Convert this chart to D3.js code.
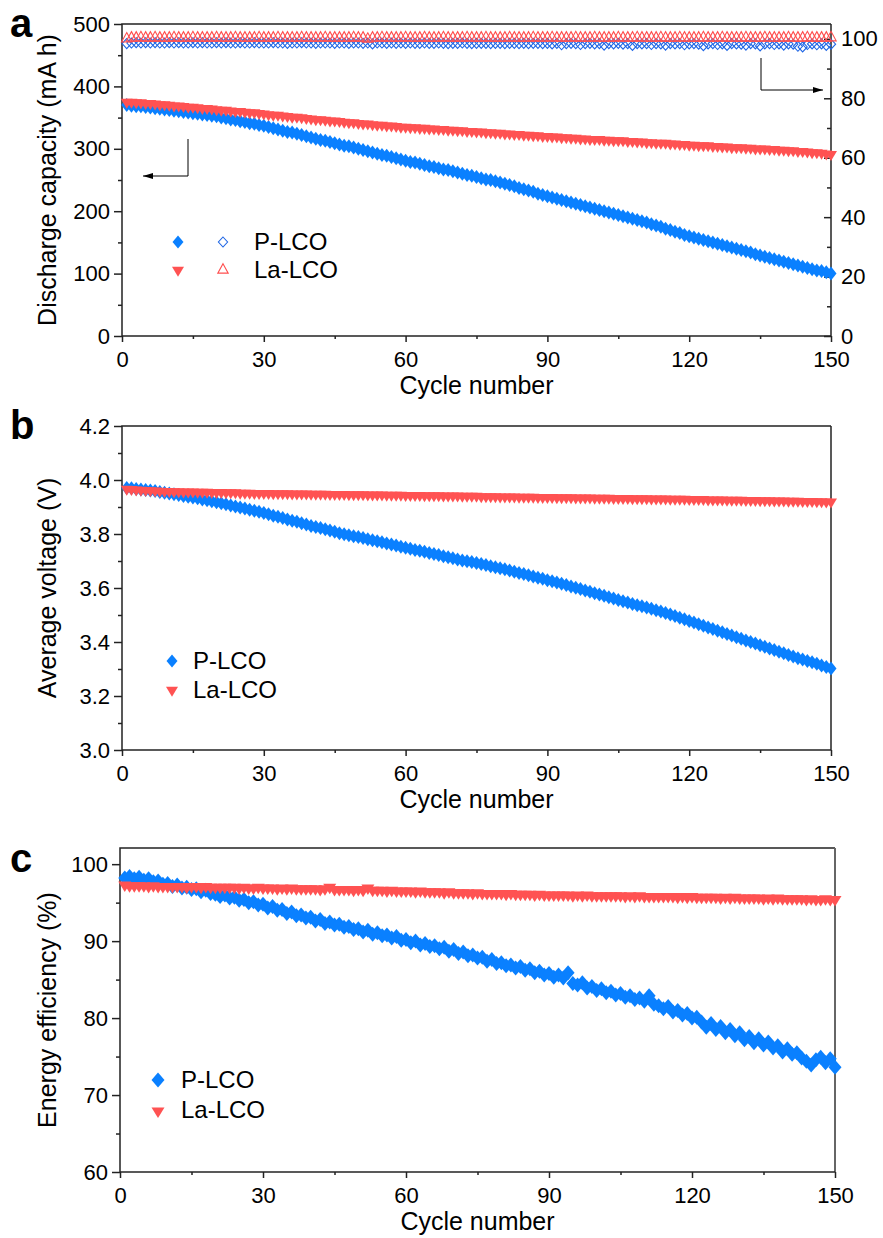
<!DOCTYPE html>
<html>
<head>
<meta charset="utf-8">
<script src="https://cdn.jsdelivr.net/npm/d3@7"></script>
<style>
  body { margin: 0; background: #fff; }
  svg text { font-family: "Liberation Sans", Arial, sans-serif; fill: #000; }
</style>
</head>
<body>
<svg id="chart" width="883" height="1238"></svg>
<script>
// cycle index 1..150
const cycles = d3.range(1, 151)
const xTicks = [0, 30, 60, 90, 120, 150]
const xMinor = [15, 45, 75, 105, 135]

// panel a: discharge capacity (mA h)
const pCapacity = [
  370, 369, 368, 368, 367, 366, 365, 364, 363, 362, 361, 360, 359, 358, 357, 356, 355, 354, 353, 352,
  350, 349, 347, 346, 344, 343, 341, 340, 338, 337, 335, 333, 331, 329, 327, 326, 324, 322, 320, 318,
  316, 314, 313, 311, 309, 307, 305, 304, 302, 300, 298, 296, 294, 292, 290, 289, 287, 285, 283, 281,
  279, 278, 276, 274, 272, 271, 269, 267, 266, 264, 262, 260, 258, 257, 255, 253, 251, 250, 248, 246,
  244, 242, 240, 237, 235, 233, 231, 228, 226, 224, 222, 220, 218, 216, 214, 212, 210, 208, 206, 204,
  202, 200, 198, 196, 194, 192, 190, 188, 186, 184, 182, 179, 177, 175, 172, 170, 167, 165, 162, 160,
  158, 156, 154, 152, 150, 148, 146, 144, 142, 140, 138, 136, 134, 131, 129, 127, 125, 123, 121, 119,
  117, 115, 113, 111, 109, 107, 105, 104, 102, 100
]
const laCapacity = [
  375, 375, 374, 374, 373, 373, 372, 371, 371, 370, 369, 369, 368, 367, 367, 366, 365, 365, 364, 363,
  362, 362, 361, 360, 360, 359, 358, 358, 357, 356, 355, 354, 354, 353, 352, 351, 351, 350, 349, 348,
  347, 347, 346, 345, 345, 344, 343, 342, 342, 341, 340, 340, 339, 338, 338, 337, 337, 336, 335, 335,
  334, 334, 333, 333, 332, 332, 331, 331, 330, 330, 329, 329, 328, 328, 327, 327, 326, 326, 325, 325,
  324, 324, 323, 323, 322, 322, 321, 321, 320, 320, 319, 319, 318, 318, 317, 317, 316, 316, 315, 315,
  315, 314, 314, 313, 313, 313, 312, 312, 311, 311, 310, 310, 309, 309, 309, 308, 308, 307, 307, 306,
  306, 305, 305, 305, 304, 304, 303, 303, 302, 302, 302, 301, 301, 300, 300, 300, 299, 299, 298, 298,
  297, 297, 296, 296, 295, 294, 294, 293, 292, 291
]
// panel a, right axis: coulombic efficiency (%)
const pCoulombic = [
  98.4, 98.6, 98.7, 98.6, 98.7, 98.6, 98.7, 98.6, 98.6, 98.7, 98.6, 98.7, 98.6, 98.6, 98.7, 98.6, 98.7, 98.6, 98.6, 98.7,
  98.6, 98.7, 98.6, 98.6, 98.7, 98.6, 98.6, 98.7, 98.6, 98.6, 98.6, 98.7, 98.6, 98.6, 98.5, 98.6, 98.6, 98.7, 98.6, 98.6,
  98.5, 98.6, 98.6, 98.6, 98.5, 98.6, 98.6, 98.5, 98.6, 98.6, 98.5, 98.6, 98.3, 98.6, 98.6, 98.5, 98.6, 98.5, 98.6, 98.5,
  98.6, 98.5, 98.5, 98.6, 98.5, 98.5, 98.6, 98.5, 98.4, 98.5, 98.5, 98.6, 98.5, 98.4, 98.5, 98.5, 98.5, 98.4, 98.5, 98.5,
  98.4, 98.5, 98.5, 98.4, 98.5, 98.4, 98.5, 98.5, 98.4, 98.5, 98.3, 98.5, 98.0, 98.4, 98.5, 98.4, 98.1, 98.4, 98.5, 98.3,
  98.4, 97.9, 98.4, 98.3, 98.5, 98.2, 98.4, 97.8, 98.4, 98.3, 98.4, 98.1, 98.4, 98.3, 97.9, 98.4, 98.3, 98.4, 98.0, 98.3,
  98.4, 98.2, 97.7, 98.3, 98.4, 98.1, 98.3, 97.8, 98.4, 98.3, 98.2, 97.9, 98.4, 98.3, 97.6, 98.3, 98.4, 98.1, 98.3, 97.9,
  98.3, 98.2, 97.5, 97.3, 98.1, 98.3, 98.0, 98.3, 97.8, 98.2
]
const laCoulombic = [
  100.0, 100.3, 100.3, 100.4, 100.3, 100.3, 100.4, 100.3, 100.3, 100.3, 100.4, 100.3, 100.3, 100.3, 100.4, 100.3, 100.3, 100.3, 100.3, 100.4,
  100.3, 100.3, 100.3, 100.4, 100.3, 100.3, 100.3, 100.3, 100.4, 100.3, 100.3, 100.3, 100.4, 100.3, 100.3, 100.3, 100.3, 100.4, 100.3, 100.3,
  100.3, 100.3, 100.4, 100.3, 100.3, 100.3, 100.3, 100.3, 100.4, 100.3, 100.3, 99.9, 100.3, 100.3, 100.4, 100.3, 100.3, 100.3, 100.3, 100.4,
  100.3, 100.3, 100.3, 100.4, 100.3, 100.3, 100.3, 100.4, 100.3, 100.3, 100.3, 100.3, 100.4, 100.3, 100.3, 100.3, 100.4, 100.3, 100.3, 100.3,
  100.3, 100.4, 100.3, 100.3, 100.3, 100.3, 100.4, 100.3, 100.3, 100.3, 100.4, 100.3, 100.3, 100.3, 100.3, 100.4, 100.3, 100.3, 100.3, 100.4,
  100.3, 100.3, 100.3, 100.3, 100.4, 100.3, 100.3, 100.3, 100.4, 100.3, 100.3, 100.3, 100.3, 100.4, 100.3, 100.3, 100.3, 100.4, 100.3, 100.3,
  100.3, 100.3, 100.4, 100.3, 100.3, 100.3, 100.4, 100.3, 100.3, 100.3, 100.3, 100.4, 100.3, 100.3, 100.3, 100.4, 100.3, 100.3, 100.3, 100.3,
  100.4, 100.3, 100.3, 100.3, 100.4, 100.3, 100.3, 100.3, 100.3, 100.4
]

// panel b: average voltage (V)
const pVoltage = [
  3.970, 3.969, 3.967, 3.965, 3.963, 3.961, 3.959, 3.956, 3.953, 3.950, 3.947, 3.944, 3.941, 3.938, 3.935,
  3.932, 3.928, 3.925, 3.921, 3.918, 3.914, 3.910, 3.906, 3.902, 3.898, 3.894, 3.890, 3.886, 3.882, 3.878,
  3.873, 3.868, 3.864, 3.859, 3.854, 3.849, 3.845, 3.840, 3.835, 3.830, 3.826, 3.822, 3.818, 3.813, 3.808,
  3.803, 3.799, 3.795, 3.792, 3.789, 3.785, 3.781, 3.777, 3.773, 3.769, 3.765, 3.761, 3.757, 3.753, 3.749,
  3.745, 3.741, 3.738, 3.734, 3.730, 3.726, 3.722, 3.718, 3.714, 3.710, 3.706, 3.702, 3.699, 3.696, 3.693,
  3.689, 3.685, 3.681, 3.677, 3.673, 3.669, 3.665, 3.660, 3.656, 3.652, 3.647, 3.643, 3.638, 3.634, 3.629,
  3.625, 3.620, 3.616, 3.611, 3.606, 3.601, 3.596, 3.591, 3.586, 3.581, 3.576, 3.571, 3.566, 3.561, 3.556,
  3.551, 3.546, 3.541, 3.536, 3.532, 3.528, 3.523, 3.518, 3.513, 3.507, 3.502, 3.496, 3.490, 3.484, 3.478,
  3.472, 3.466, 3.460, 3.454, 3.448, 3.442, 3.436, 3.430, 3.424, 3.418, 3.412, 3.406, 3.400, 3.394, 3.388,
  3.382, 3.376, 3.370, 3.364, 3.358, 3.352, 3.346, 3.340, 3.335, 3.330, 3.325, 3.319, 3.313, 3.307, 3.302
]
const laVoltage = [
  3.966, 3.965, 3.964, 3.963, 3.962, 3.961, 3.960, 3.959, 3.958, 3.958, 3.957, 3.957, 3.956, 3.956, 3.956,
  3.955, 3.955, 3.955, 3.954, 3.954, 3.954, 3.953, 3.953, 3.953, 3.952, 3.952, 3.952, 3.951, 3.951, 3.951,
  3.951, 3.950, 3.950, 3.950, 3.950, 3.949, 3.949, 3.949, 3.949, 3.948, 3.948, 3.948, 3.948, 3.947, 3.947,
  3.947, 3.947, 3.946, 3.946, 3.946, 3.946, 3.945, 3.945, 3.945, 3.945, 3.944, 3.944, 3.944, 3.944, 3.943,
  3.943, 3.943, 3.943, 3.942, 3.942, 3.942, 3.942, 3.941, 3.941, 3.941, 3.941, 3.940, 3.940, 3.940, 3.940,
  3.939, 3.939, 3.939, 3.939, 3.938, 3.938, 3.938, 3.938, 3.937, 3.937, 3.937, 3.937, 3.936, 3.936, 3.936,
  3.936, 3.935, 3.935, 3.935, 3.935, 3.934, 3.934, 3.934, 3.934, 3.933, 3.933, 3.933, 3.933, 3.932, 3.932,
  3.932, 3.932, 3.931, 3.931, 3.931, 3.931, 3.930, 3.930, 3.930, 3.930, 3.929, 3.929, 3.929, 3.929, 3.928,
  3.928, 3.928, 3.928, 3.927, 3.927, 3.927, 3.927, 3.926, 3.926, 3.926, 3.926, 3.925, 3.925, 3.925, 3.924,
  3.924, 3.924, 3.923, 3.923, 3.923, 3.922, 3.922, 3.922, 3.921, 3.921, 3.921, 3.920, 3.920, 3.919, 3.919
]

// panel c: energy efficiency (%)
const pEnergy = [
  98.2, 98.4, 98.1, 98.3, 97.9, 98.1, 97.7, 97.8, 97.4, 97.5, 97.1, 97.3, 96.9, 97.0, 96.7,
  96.8, 96.4, 96.6, 96.2, 96.1, 95.8, 96.0, 95.6, 95.7, 95.3, 95.4, 95.0, 95.1, 94.7, 94.8,
  94.3, 94.5, 94.0, 94.1, 93.6, 93.8, 93.3, 93.4, 93.0, 93.1, 92.6, 92.8, 92.3, 92.5, 92.1,
  92.2, 91.8, 91.9, 91.5, 91.6, 91.2, 91.4, 90.9, 91.1, 90.7, 90.8, 90.4, 90.6, 90.1, 90.2,
  89.8, 90.0, 89.5, 89.7, 89.3, 89.4, 89.0, 89.2, 88.7, 88.9, 88.4, 88.6, 88.1, 88.2, 87.8,
  87.9, 87.4, 87.6, 87.1, 87.2, 86.8, 86.9, 86.5, 86.7, 86.2, 86.4, 85.9, 86.1, 85.6, 85.8,
  85.3, 85.6, 85.2, 85.9, 84.5, 84.3, 84.6, 83.9, 84.1, 83.6, 83.8, 83.3, 83.5, 83.0, 83.2,
  82.7, 82.9, 82.4, 82.6, 82.2, 82.9, 81.8, 81.6, 81.2, 81.5, 80.8, 81.0, 80.4, 80.6, 80.0,
  80.1, 79.5, 78.8, 79.3, 78.5, 78.9, 78.1, 78.5, 77.7, 78.1, 77.2, 77.6, 76.8, 77.3, 76.5,
  76.9, 76.1, 76.4, 75.6, 76.0, 75.3, 75.5, 74.8, 74.4, 73.9, 74.6, 74.9, 74.2, 74.7, 73.6
]
const laEnergy = [
  97.3, 97.2, 97.2, 97.2, 97.2, 97.1, 97.2, 97.1, 97.1, 97.1, 97.1, 97.1, 97.1, 97.0, 97.1,
  97.1, 97.0, 97.1, 97.0, 97.0, 97.0, 97.0, 97.0, 97.0, 96.9, 97.0, 96.9, 96.9, 97.0, 96.9,
  96.9, 96.9, 96.8, 96.9, 96.8, 96.9, 96.8, 96.8, 96.8, 96.8, 96.8, 96.7, 96.8, 97.0, 96.7,
  96.7, 96.7, 96.7, 96.6, 96.7, 96.6, 96.9, 96.6, 96.6, 96.6, 96.5, 96.6, 96.5, 96.5, 96.5,
  96.5, 96.4, 96.5, 96.4, 96.4, 96.4, 96.4, 96.3, 96.4, 96.3, 96.3, 96.3, 96.3, 96.2, 96.3,
  96.2, 96.2, 96.2, 96.2, 96.2, 96.1, 96.2, 96.1, 96.1, 96.1, 96.1, 96.0, 96.1, 96.0, 96.0,
  96.0, 96.0, 96.0, 96.0, 95.9, 96.0, 95.9, 96.0, 95.9, 95.9, 95.9, 95.9, 95.9, 95.9, 95.9,
  95.8, 95.9, 95.8, 95.9, 95.8, 95.8, 95.8, 95.8, 95.8, 95.8, 95.8, 95.7, 95.8, 95.7, 95.8,
  95.7, 95.7, 95.7, 95.7, 95.7, 95.6, 95.7, 95.6, 95.7, 95.6, 95.6, 95.6, 95.6, 95.6, 95.5,
  95.6, 95.5, 95.6, 95.5, 95.5, 95.5, 95.5, 95.5, 95.4, 95.5, 95.4, 95.4, 95.5, 95.4, 95.4
]

const seriesNames = ['P-LCO', 'La-LCO']

const BLUE = '#0a80ff'
const RED = '#ff5252'
const BLUE_OPEN = '#1f66e5'
const RED_OPEN = '#ff4f4f'
const AXIS = '#222'

const svg = d3.select('#chart')

// custom symbol types (d3.symbol accepts any {draw})
const diamond = (rx, ry) => ({
  draw(ctx) {
    ctx.moveTo(0, -ry); ctx.lineTo(rx, 0); ctx.lineTo(0, ry); ctx.lineTo(-rx, 0); ctx.closePath()
  }
})
const triangleDown = (rx, h) => ({
  draw(ctx) {
    ctx.moveTo(-rx, -h / 3); ctx.lineTo(rx, -h / 3); ctx.lineTo(0, 2 * h / 3); ctx.closePath()
  }
})
const triangleUp = (rx, h) => ({
  draw(ctx) {
    ctx.moveTo(0, -2 * h / 3); ctx.lineTo(rx, h / 3); ctx.lineTo(-rx, h / 3); ctx.closePath()
  }
})
const sym = type => d3.symbol().type(type)()

function styleAxis(g) {
  g.select('.domain').remove()
  g.selectAll('line').attr('stroke', AXIS).attr('stroke-width', 1.5)
  g.selectAll('text').style('font-size', '22px').attr('fill', '#000')
}

function drawMarkers(g, x, y, values, path, fill, stroke) {
  g.append('g')
    .selectAll('path')
    .data(cycles)
    .join('path')
      .attr('transform', (d, i) => `translate(${ x(d) },${ y(values[i]) })`)
      .attr('d', path)
      .attr('fill', fill || 'none')
      .attr('stroke', stroke || 'none')
      .attr('stroke-width', stroke ? 1.1 : null)
}

function panel(cfg) {
  const g = svg.append('g')
  const x = d3.scaleLinear().domain([0, 150]).range([cfg.left, cfg.right])
  const y = d3.scaleLinear().domain(cfg.yDomain).range([cfg.bottom, cfg.top])

  // bottom axis
  const bx = g.append('g').attr('transform', `translate(0,${ cfg.bottom })`)
  bx.call(d3.axisBottom(x).tickValues(xTicks).tickSize(6).tickFormat(d3.format('d')))
  bx.call(styleAxis)
  bx.selectAll('text').attr('dy', 0).attr('y', 31)
  const bxm = g.append('g').attr('transform', `translate(0,${ cfg.bottom })`)
  bxm.call(d3.axisBottom(x).tickValues(xMinor).tickSize(3).tickFormat(''))
  bxm.call(styleAxis)

  // left axis
  const ly = g.append('g').attr('transform', `translate(${ cfg.left },0)`)
  ly.call(d3.axisLeft(y).tickValues(cfg.yTicks).tickSize(8).tickPadding(4).tickFormat(cfg.yFormat))
  ly.call(styleAxis)
  const lym = g.append('g').attr('transform', `translate(${ cfg.left },0)`)
  lym.call(d3.axisLeft(y).tickValues(cfg.yMinor).tickSize(4).tickFormat(''))
  lym.call(styleAxis)

  // frame
  g.append('path')
    .attr('d', `M${ cfg.left },${ cfg.bottom }V${ cfg.top }H${ cfg.right }`)
    .attr('fill', 'none').attr('stroke', AXIS).attr('stroke-width', 1.5)
  g.append('line')
    .attr('x1', cfg.right).attr('x2', cfg.right).attr('y1', cfg.top).attr('y2', cfg.bottom)
    .attr('stroke', cfg.rightColor || AXIS).attr('stroke-width', cfg.rightWidth || 1.5)
  g.append('line')
    .attr('x1', cfg.left).attr('x2', cfg.right).attr('y1', cfg.bottom).attr('y2', cfg.bottom)
    .attr('stroke', AXIS).attr('stroke-width', 1.5)

  // titles
  g.append('text')
    .attr('x', (cfg.left + cfg.right) / 2).attr('y', cfg.bottom + 58)
    .attr('text-anchor', 'middle').style('font-size', '25px')
    .text('Cycle number')
  g.append('text')
    .attr('transform', `translate(56,${ (cfg.top + cfg.bottom) / 2 }) rotate(-90)`)
    .attr('text-anchor', 'middle').style('font-size', '25px')
    .text(cfg.yTitle)
  g.append('text')
    .attr('x', 10).attr('y', cfg.letterY)
    .style('font-size', '40px').style('font-weight', 'bold')
    .text(cfg.letter)

  return { g, x, y }
}

// ---------- panel a ----------
const a = panel({
  left: 122, right: 831, top: 24, bottom: 336,
  yDomain: [0, 500], yTicks: [0, 100, 200, 300, 400, 500], yMinor: [50, 150, 250, 350, 450],
  yFormat: d3.format('d'), yTitle: 'Discharge capacity (mA h)', letter: 'a', letterY: 37
})
const yRight = d3.scaleLinear().domain([0, 105]).range([336, 24])
const ry = a.g.append('g').attr('transform', 'translate(831,0)')
ry.call(d3.axisRight(yRight).tickValues([0, 20, 40, 60, 80, 100]).tickSize(-7).tickPadding(10))
ry.call(styleAxis)
const rym = a.g.append('g').attr('transform', 'translate(831,0)')
rym.call(d3.axisRight(yRight).tickValues([10, 30, 50, 70, 90]).tickSize(-4).tickFormat(''))
rym.call(styleAxis)

drawMarkers(a.g, a.x, yRight, pCoulombic, sym(diamond(4.6, 5)), null, BLUE_OPEN)
drawMarkers(a.g, a.x, yRight, laCoulombic, sym(triangleUp(5.2, 9.5)), null, RED_OPEN)
drawMarkers(a.g, a.x, a.y, pCapacity, sym(diamond(5.5, 7)), BLUE)
drawMarkers(a.g, a.x, a.y, laCapacity, sym(triangleDown(6, 10)), RED)

// arrows pointing to each axis
svg.append('defs').append('marker')
  .attr('id', 'head').attr('viewBox', '0 0 10 10').attr('refX', 10).attr('refY', 5)
  .attr('markerWidth', 10).attr('markerHeight', 10).attr('markerUnits', 'userSpaceOnUse')
  .attr('orient', 'auto')
  .append('path').attr('d', 'M0,2L10,5L0,8Z').attr('fill', '#000')
a.g.append('path').attr('d', 'M188,139V176H143')
  .attr('fill', 'none').attr('stroke', '#000').attr('stroke-width', 1).attr('marker-end', 'url(#head)')
a.g.append('path').attr('d', 'M761,58V90H823')
  .attr('fill', 'none').attr('stroke', '#000').attr('stroke-width', 1).attr('marker-end', 'url(#head)')

// legend a
const legA = a.g.append('g')
legA.append('path').attr('transform', 'translate(178,242)').attr('d', sym(diamond(5.5, 6.5))).attr('fill', BLUE)
legA.append('path').attr('transform', 'translate(223,242)').attr('d', sym(diamond(4.6, 5)))
  .attr('fill', 'none').attr('stroke', BLUE_OPEN).attr('stroke-width', 1.1)
legA.append('path').attr('transform', 'translate(178,270)').attr('d', sym(triangleDown(6, 10))).attr('fill', RED)
legA.append('path').attr('transform', 'translate(223,270)').attr('d', sym(triangleUp(5.2, 9.5)))
  .attr('fill', 'none').attr('stroke', RED_OPEN).attr('stroke-width', 1.1)
legA.selectAll('text').data(seriesNames).join('text')
  .attr('x', 254).attr('y', (d, i) => 250 + i * 28)
  .style('font-size', '24px').text(d => d)

// ---------- panel b ----------
const b = panel({
  left: 122, right: 831, top: 426, bottom: 750,
  yDomain: [3.0, 4.2], yTicks: [3.0, 3.2, 3.4, 3.6, 3.8, 4.0, 4.2], yMinor: [3.1, 3.3, 3.5, 3.7, 3.9, 4.1],
  yFormat: d3.format('.1f'), yTitle: 'Average voltage (V)', letter: 'b', letterY: 439
})
drawMarkers(b.g, b.x, b.y, pVoltage, sym(diamond(5.5, 7)), BLUE)
drawMarkers(b.g, b.x, b.y, laVoltage, sym(triangleDown(6, 10)), RED)

const legB = b.g.append('g')
legB.append('path').attr('transform', 'translate(172,661)').attr('d', sym(diamond(5.5, 6.5))).attr('fill', BLUE)
legB.append('path').attr('transform', 'translate(172,690)').attr('d', sym(triangleDown(6, 10))).attr('fill', RED)
legB.selectAll('text').data(seriesNames).join('text')
  .attr('x', 193).attr('y', (d, i) => 669 + i * 29)
  .style('font-size', '24px').text(d => d)

// ---------- panel c ----------
const c = panel({
  left: 120, right: 835, top: 848, bottom: 1172,
  yDomain: [60, 102.1], yTicks: [60, 70, 80, 90, 100], yMinor: [65, 75, 85, 95],
  yFormat: d3.format('d'), yTitle: 'Energy efficiency (%)', letter: 'c', letterY: 872,
  rightColor: '#666', rightWidth: 2
})
drawMarkers(c.g, c.x, c.y, pEnergy, sym(diamond(6.5, 7.5)), BLUE)
drawMarkers(c.g, c.x, c.y, laEnergy, sym(triangleDown(6.5, 10.5)), RED)

const legC = c.g.append('g')
legC.append('path').attr('transform', 'translate(158,1080)').attr('d', sym(diamond(6.5, 7.5))).attr('fill', BLUE)
legC.append('path').attr('transform', 'translate(158,1111)').attr('d', sym(triangleDown(6.5, 10.5))).attr('fill', RED)
legC.selectAll('text').data(seriesNames).join('text')
  .attr('x', 181).attr('y', (d, i) => 1088 + i * 30)
  .style('font-size', '24px').text(d => d)
</script>
</body>
</html>
